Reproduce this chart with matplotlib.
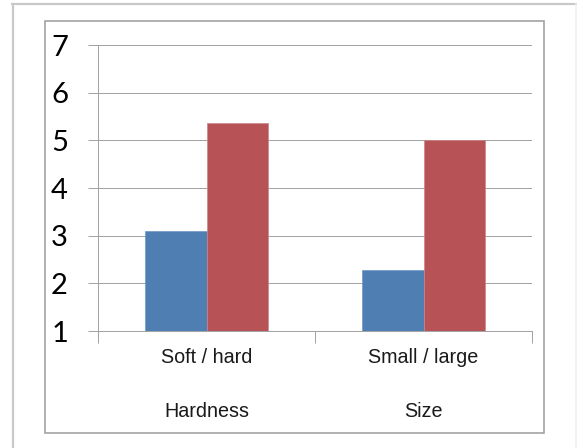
import matplotlib
matplotlib.use("Agg")
import matplotlib.pyplot as plt
import numpy as np
from matplotlib.lines import Line2D
from matplotlib.patches import Rectangle
from matplotlib.transforms import blended_transform_factory

categories = ["Soft / hard", "Small / large"]
groups = ["Hardness", "Size"]
first_values = [3.09, 2.28]
second_values = [5.37, 5.0]
y_ticks = [1, 2, 3, 4, 5, 6, 7]

W, H = 577, 448
DPI = 100
PX = 72 / DPI  # points per pixel

BLUE = "#4F7EB3"
RED = "#B75356"
GRID = "#a3a3a3"

fig = plt.figure(figsize=(W / DPI, H / DPI), dpi=DPI)
fig.patch.set_facecolor("white")


def fx(px):
    return px / W


def fy(py):
    return 1 - py / H


# outer frame (top, left and a faint right edge)
fig.add_artist(Line2D([fx(12), fx(577)], [fy(4), fy(4)], color="#c9c9c9", lw=2.2 * PX))
fig.add_artist(Line2D([fx(12.5), fx(12.5)], [fy(4), fy(448)], color="#c9c9c9", lw=2.2 * PX))
fig.add_artist(Line2D([fx(576), fx(576)], [fy(4), fy(448)], color="#eeeeee", lw=1.5 * PX))

# inner chart border
fig.add_artist(Rectangle((fx(45), fy(433)), fx(544) - fx(45), fy(21) - fy(433),
                         fill=False, edgecolor="#a0a0a0", lw=1.6 * PX))

ax = fig.add_axes([fx(98), fy(331), fx(532) - fx(98), fy(45) - fy(331)])

x = np.arange(len(categories))
bw = 0.2857
ax.bar(x - bw / 2, first_values, bw, bottom=0, color=BLUE, edgecolor="#6f97c6",
       linewidth=0.5, zorder=3)
ax.bar(x + bw / 2, second_values, bw, bottom=0, color=RED, edgecolor="#cc8587",
       linewidth=0.5, zorder=3)

ax.set_xlim(-0.5, 1.5)
ax.set_ylim(1, 7)

ax.set_yticks(y_ticks)
ax.set_yticklabels([str(v) for v in y_ticks], fontfamily="Lato", fontsize=21)
ax.tick_params(axis="y", direction="out", length=10 * PX, width=1 * PX,
               color=GRID, pad=20 * PX, labelcolor="black")
ax.yaxis.grid(True, color=GRID, lw=1 * PX, zorder=0)
ax.set_axisbelow(True)

ax.set_xticks(x)
ax.set_xticklabels(categories, fontfamily="Liberation Sans", fontsize=14.2,
                   color="#1a1a1a")
ax.tick_params(axis="x", which="major", length=0, pad=17 * PX)
ax.set_xticks([-0.5, 0.5, 1.5], minor=True)
ax.tick_params(axis="x", which="minor", direction="out", length=12 * PX,
               width=1 * PX, color=GRID)

trans = blended_transform_factory(ax.transData, ax.transAxes)
for xi, g in zip(x, groups):
    ax.annotate(g, xy=(xi, 0), xycoords=trans, xytext=(0, -71 * PX),
                textcoords="offset points", ha="center", va="top",
                fontfamily="Liberation Sans", fontsize=14.2, color="#1a1a1a")

for side in ("top", "right"):
    ax.spines[side].set_visible(False)
for side in ("left", "bottom"):
    ax.spines[side].set_color(GRID)
    ax.spines[side].set_linewidth(1 * PX)
ax.spines["bottom"].set_zorder(4)

fig.savefig("out.png", dpi=DPI)
